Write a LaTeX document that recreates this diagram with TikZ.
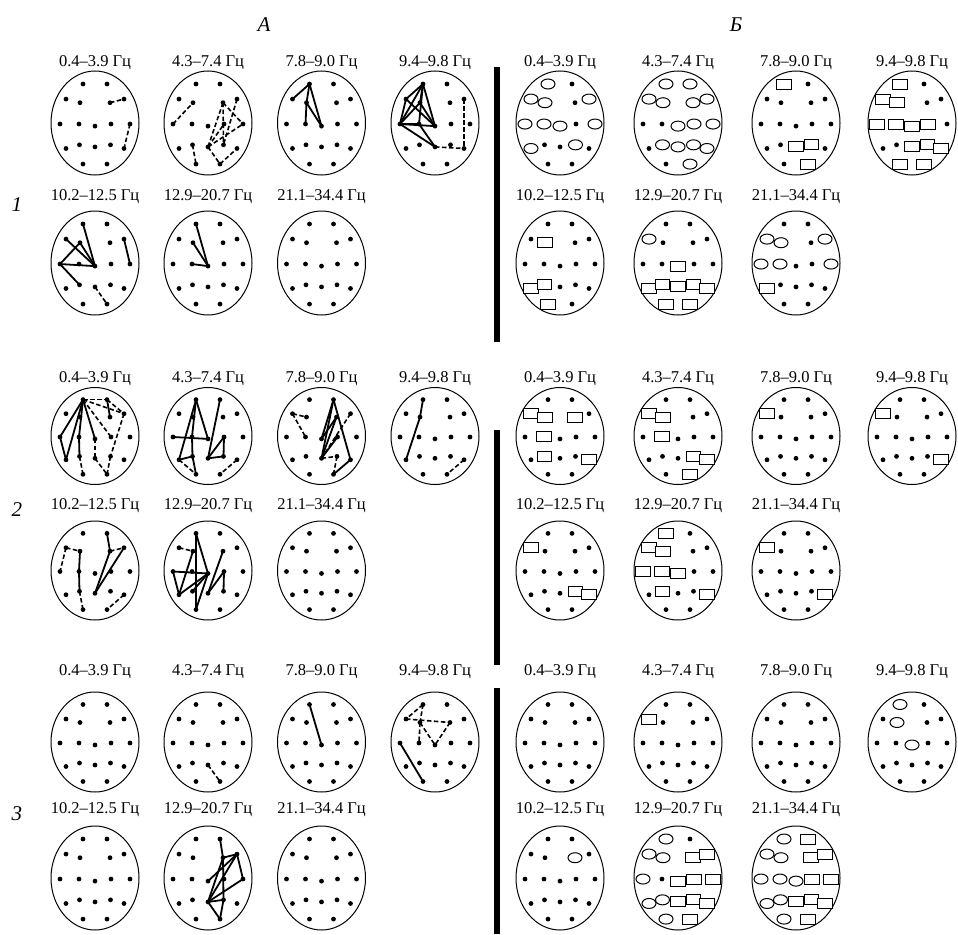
\documentclass[tikz,border=0pt]{standalone}
\usepackage{fontspec}
\setmainfont{Liberation Serif}
\usetikzlibrary{shapes.geometric}

% one head outline with its 18 electrode sites
\newcommand{\headmap}[4]{%
  \draw[headline] (#2,#3) ellipse [x radius=44pt,y radius=#4pt];
  \foreach \site/\sx/\sy in {Fp1/-12/-37.5,Fp2/12/-37.5,F7/-29/-23,F3/-15/-19.5,F4/15/-19.5,F8/29/-23,
      T3/-35/1,C3/-16/1,Cz/0/3,C4/16/1,T4/35/1,T5/-29/24.5,P3/-15.5/21,Pz/0/23,P4/15.5/21,T6/29/24.5,
      O1/-12/39.5,O2/12/39.5}{%
    \coordinate (#1-\site) at ({#2+\sx},{#3+\sy*#4/50});
    \fill (#1-\site) circle (2.4pt);
  }%
}
% the 14 heads of one group
\newcommand{\headgroup}[5]{%
  \foreach \hx [count=\k] in {95,208,321.5,435}{\headmap{a#1\k}{\hx}{#2}{#3}}%
  \foreach \hx [count=\k from 5] in {95,208,321.5}{\headmap{a#1\k}{\hx}{#4}{#5}}%
  \foreach \hx [count=\k] in {560,678,796,912}{\headmap{b#1\k}{\hx}{#2}{#3}}%
  \foreach \hx [count=\k from 5] in {560,678,796}{\headmap{b#1\k}{\hx}{#4}{#5}}%
}
\newcommand{\upperbands}[2]{%
  \foreach \bx/\bt [count=\i] in {95/{0.4–3.9 Гц},208/{4.3–7.4 Гц},321.5/{7.8–9.0 Гц},435/{9.4–9.8 Гц},
      560/{0.4–3.9 Гц},678/{4.3–7.4 Гц},796/{7.8–9.0 Гц},912/{9.4–9.8 Гц}}{%
    \node[band] (#2-\i) at (\bx,#1) {\bt};}%
}
\newcommand{\lowerbands}[2]{%
  \foreach \bx/\bt [count=\i] in {95/{10.2–12.5 Гц},208/{12.9–20.7 Гц},321.5/{21.1–34.4 Гц},
      560/{10.2–12.5 Гц},678/{12.9–20.7 Гц},796/{21.1–34.4 Гц}}{%
    \node[band] (#2-\i) at (\bx,#1) {\bt};}%
}
\newcommand{\sitelinks}[3]{\foreach \ela/\elb in {#3}{\draw[#2] (#1-\ela) -- (#1-\elb);}}
\newcommand{\sitemarks}[3]{\foreach \elm in {#3}{\node[#2] (#1-\elm-m) at (#1-\elm) {};}}

\begin{document}
\begin{tikzpicture}[x=1pt,y=-1pt,
  headline/.style={line width=1pt},
  link/.style={line width=1.8pt,line cap=round},
  dlink/.style={line width=1.6pt,dash pattern=on 4.5pt off 2.5pt},
  oval/.style={draw,ellipse,fill=white,line width=1pt,inner sep=0pt,minimum width=14pt,minimum height=10pt},
  box/.style={draw,rectangle,fill=white,line width=1pt,inner sep=0pt,minimum width=14.5pt,minimum height=10pt},
  band/.style={font=\fontsize{16.5}{16.5}\selectfont,inner sep=0pt},
  panel/.style={font=\fontsize{21}{21}\selectfont\itshape,inner sep=0pt}]
  \useasboundingbox (0,0) rectangle (958,934);

  \node[panel] (colA) at (264,25) {А};
  \node[panel] (colB) at (736,25) {Б};
  \node[panel] (grp1) at (17,205) {1};
  \node[panel] (grp2) at (17,510) {2};
  \node[panel] (grp3) at (17,814) {3};

  \fill (494,67) rectangle (500,342);
  \fill (494,430) rectangle (500,665);
  \fill (494,688) rectangle (500,934);

  \upperbands{63}{t1}\lowerbands{197}{u1}
  \upperbands{379}{t2}\lowerbands{506}{u2}
  \upperbands{672}{t3}\lowerbands{810}{u3}

  \headgroup{1}{123}{52}{263}{52}
  \headgroup{2}{436}{48.5}{570.5}{49.5}
  \headgroup{3}{742}{50}{878}{52}

  % group 1
  \sitelinks{a11}{dlink}{F4/F8,T4/T6}
  \sitelinks{a12}{dlink}{T3/F3,P3/O1,F4/Pz,F4/P4,F4/T4,F8/P4,Pz/T4,Pz/C4,Pz/O2,O2/T6}
  \sitelinks{a13}{link}{Fp1/F7,Fp1/F3,Fp1/Cz,F3/C3,F3/Cz}
  \sitelinks{a14}{link}{Fp1/F7,Fp1/F3,Fp1/T3,Fp1/C3,Fp1/Cz,F7/T3,F7/Cz,F3/T3,F3/Cz,T3/C3,T3/Cz,T3/Pz,C3/Pz}
  \sitelinks{a14}{dlink}{F8/T6,Pz/T6}
  \sitelinks{a15}{link}{Fp1/Cz,F7/Cz,F3/Cz,T3/F3,T3/Cz,T3/P3,F8/T4}
  \sitelinks{a15}{dlink}{Pz/O2}
  \sitelinks{a16}{link}{Fp1/Cz,F3/Cz,C3/Cz}

  \sitemarks{b11}{oval}{Fp1,F7,F3,F8,T3,C3,Cz,T4,T5,P4}
  \sitemarks{b12}{oval}{Fp1,Fp2,F7,F3,F4,F8,Cz,C4,T4,P3,Pz,P4,T6,O2}
  \sitemarks{b13}{box}{Fp1,Pz,P4,O2}
  \sitemarks{b14}{box}{Fp1,F7,F3,T3,C3,Cz,C4,Pz,P4,T6,O1,O2}
  \sitemarks{b15}{box}{F3,T5,P3,O1}
  \sitemarks{b16}{oval}{F7}
  \sitemarks{b16}{box}{Cz,T5,P3,Pz,P4,T6,O1,O2}
  \sitemarks{b17}{oval}{F7,F3,F8,T3,C3,T4}
  \sitemarks{b17}{box}{T5}

  % group 2
  \sitelinks{a21}{link}{Fp1/T3,T3/T5,T5/Fp1,Fp1/C3,C3/P3,Fp1/Cz,Fp2/F4}
  \sitelinks{a21}{dlink}{Fp1/Fp2,Fp1/F8,Fp2/F8,Fp1/C4,Cz/Pz,F8/P4,P3/O1,Pz/O2,P4/O2}
  \sitelinks{a22}{link}{Fp1/C3,C3/P3,Fp1/T5,Fp1/Cz,Cz/T3,T5/P3,P3/O1,Fp2/Pz,Pz/C4,C4/P4,P4/Pz}
  \sitelinks{a22}{dlink}{T5/O1,T6/O2}
  \sitelinks{a23}{link}{Fp2/Pz,Fp2/T6,Fp2/Cz,Cz/F4,F4/Pz,C4/Pz,T6/O2}
  \sitelinks{a23}{dlink}{F7/F3,F7/C3,F8/Pz,Pz/P4,P4/O2}
  \sitelinks{a24}{link}{Fp1/F3,F3/T5}
  \sitelinks{a24}{dlink}{T6/O2}
  \sitelinks{a25}{link}{F3/C3,C3/P3,Fp2/F4,F4/Pz,Pz/F8}
  \sitelinks{a25}{dlink}{F7/F3,F7/T3,F4/F8,P3/O1,T6/O2}
  \sitelinks{a26}{link}{Fp1/O1,Fp1/Cz,T3/Cz,T3/T5,T5/F3,T5/Cz,P3/Cz,Cz/O1,F4/Pz,Pz/C4,C4/P4}
  \sitelinks{a26}{dlink}{F7/F3}

  \sitemarks{b21}{box}{F7,F3,F4,C3,P3,T6}
  \sitemarks{b22}{box}{F7,F3,C3,P4,T6,O2}
  \sitemarks{b23}{box}{F7}
  \sitemarks{b24}{box}{F7,T6}
  \sitemarks{b25}{box}{F7,P4,T6}
  \sitemarks{b26}{box}{Fp1,F7,F3,T3,C3,Cz,P3,T6}
  \sitemarks{b27}{box}{F7,T6}

  % group 3
  \sitelinks{a32}{dlink}{Pz/O2}
  \sitelinks{a33}{link}{Fp1/Cz}
  \sitelinks{a34}{dlink}{Fp1/F7,F7/F4,Fp1/F3,F3/C3,F3/Cz,F4/Cz}
  \sitelinks{a34}{link}{T3/O1}
  \sitelinks{a36}{link}{Fp2/F4,F4/P4,P4/O2,F4/F8,F8/T4,T4/Pz,Pz/F8,Pz/F4,Pz/P4,Pz/O2,Cz/F8}

  \sitemarks{b32}{box}{F7}
  \sitemarks{b34}{oval}{Fp1,F3,Cz}
  \sitemarks{b35}{oval}{F4}
  \sitemarks{b36}{oval}{Fp1,F7,F3,T3,T5,P3,O1}
  \sitemarks{b36}{box}{F4,F8,Cz,C4,T4,Pz,P4,T6,O2}
  \sitemarks{b37}{oval}{Fp1,F7,F3,T3,C3,Cz,T5,P3,O1}
  \sitemarks{b37}{box}{Fp2,F4,F8,C4,T4,Pz,P4,T6,O2}
\end{tikzpicture}
\end{document}
